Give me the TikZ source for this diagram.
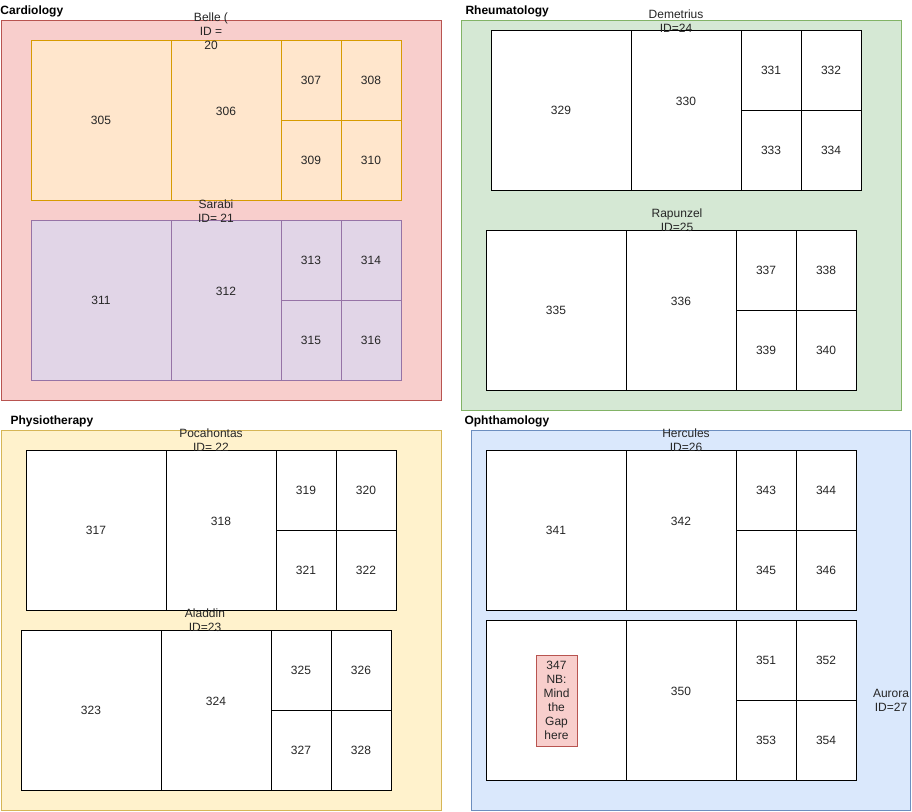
\documentclass[tikz,border=0pt]{standalone}
\usepackage{fontspec}
\setmainfont{Liberation Sans}
\begin{document}
\begin{tikzpicture}[x=1pt,y=-1pt,line width=1pt,
  every node/.style={font=\fontsize{12}{14}\selectfont, text=black!85},
  cont/.style={draw, inner sep=0, outer sep=0},
  cell/.style={draw, inner sep=0, outer sep=0},
  belle/.style={cell, fill=orange!20!white, fill={rgb,255:red,255;green,230;blue,204}, draw={rgb,255:red,215;green,155;blue,0}},
  sarabi/.style={cell, fill={rgb,255:red,225;green,213;blue,231}, draw={rgb,255:red,150;green,115;blue,166}},
  plain/.style={cell, fill=white, draw=black},
  grplabel/.style={align=center, inner sep=0},
  deptlabel/.style={font=\fontsize{12}{14}\selectfont\bfseries, anchor=west, inner sep=0, text=black}
]
\useasboundingbox (0,0) rectangle (912,811);
\fill[white] (0,0) rectangle (912,811);

\newcommand\grp[4]{%
  \node[#3, minimum width=140, minimum height=160] (c#4) at ({#1+70},{#2+80}) {\the\numexpr#4\relax};
  \node[#3, minimum width=110, minimum height=160, label={[yshift=9]center:\the\numexpr#4+1\relax}] (c\the\numexpr#4+1\relax) at ({#1+195},{#2+80}) {};
  \node[#3, minimum width=60, minimum height=80] (c\the\numexpr#4+2\relax) at ({#1+280},{#2+40}) {\the\numexpr#4+2\relax};
  \node[#3, minimum width=60, minimum height=80] (c\the\numexpr#4+3\relax) at ({#1+340},{#2+40}) {\the\numexpr#4+3\relax};
  \node[#3, minimum width=60, minimum height=80] (c\the\numexpr#4+4\relax) at ({#1+280},{#2+120}) {\the\numexpr#4+4\relax};
  \node[#3, minimum width=60, minimum height=80] (c\the\numexpr#4+5\relax) at ({#1+340},{#2+120}) {\the\numexpr#4+5\relax};
}

% Containers
\node[cont, fill={rgb,255:red,248;green,206;blue,204}, draw={rgb,255:red,184;green,84;blue,80}, minimum width=440, minimum height=380, anchor=north west] (cardio) at (1,20) {};
\node[cont, fill={rgb,255:red,213;green,232;blue,212}, draw={rgb,255:red,130;green,179;blue,102}, minimum width=440, minimum height=390, anchor=north west] (rheum) at (461,20) {};
\node[cont, fill={rgb,255:red,255;green,242;blue,204}, draw={rgb,255:red,214;green,182;blue,86}, minimum width=440, minimum height=380, anchor=north west] (physio) at (1,430) {};
\node[cont, fill={rgb,255:red,218;green,232;blue,252}, draw={rgb,255:red,108;green,142;blue,191}, minimum width=439, minimum height=380, anchor=north west] (ophth) at (471.5,430) {};

\node[deptlabel] (lcardio) at (0,11) {Cardiology};
\node[deptlabel] (lrheum) at (465,11) {Rheumatology};
\node[deptlabel] (lphysio) at (10,421) {Physiotherapy};
\node[deptlabel] (lophth) at (464,421) {Ophthamology};

% Groups
\grp{31}{40}{belle}{305}
\grp{31}{220}{sarabi}{311}
\grp{491}{30}{plain}{329}
\grp{486}{230}{plain}{335}
\grp{26}{450}{plain}{317}
\grp{21}{630}{plain}{323}
\grp{486}{450}{plain}{341}

% Aurora
\node[plain, minimum width=140, minimum height=160] (c347cell) at (556,700) {};
\node[plain, minimum width=110, minimum height=160, label={[yshift=9]center:350}] (c350) at (681,700) {};
\node[plain, minimum width=60, minimum height=80] (c351) at (766,660) {351};
\node[plain, minimum width=60, minimum height=80] (c352) at (826,660) {352};
\node[plain, minimum width=60, minimum height=80] (c353) at (766,740) {353};
\node[plain, minimum width=60, minimum height=80] (c354) at (826,740) {354};
\node[cell, fill={rgb,255:red,248;green,206;blue,204}, draw={rgb,255:red,184;green,84;blue,80}, minimum width=41, minimum height=91, align=center, inner sep=0] (c347) at (556.5,700.5) {347\\NB:\\Mind\\the\\Gap\\here};

% Group labels
\node[grplabel] (tbelle) at (211,31) {Belle (\\ID =\\20};
\node[grplabel] (tsarabi) at (216,211) {Sarabi\\ID= 21};
\node[grplabel] (tdem) at (676,21) {Demetrius\\ID=24};
\node[grplabel] (trap) at (677,220) {Rapunzel\\ID=25};
\node[grplabel] (tpoca) at (211,440) {Pocahontas\\ID= 22};
\node[grplabel] (tala) at (205,620) {Aladdin\\ID=23};
\node[grplabel] (therc) at (686,440) {Hercules\\ID=26};
\node[grplabel] (taur) at (891,700) {Aurora\\ID=27};
\end{tikzpicture}
\end{document}
